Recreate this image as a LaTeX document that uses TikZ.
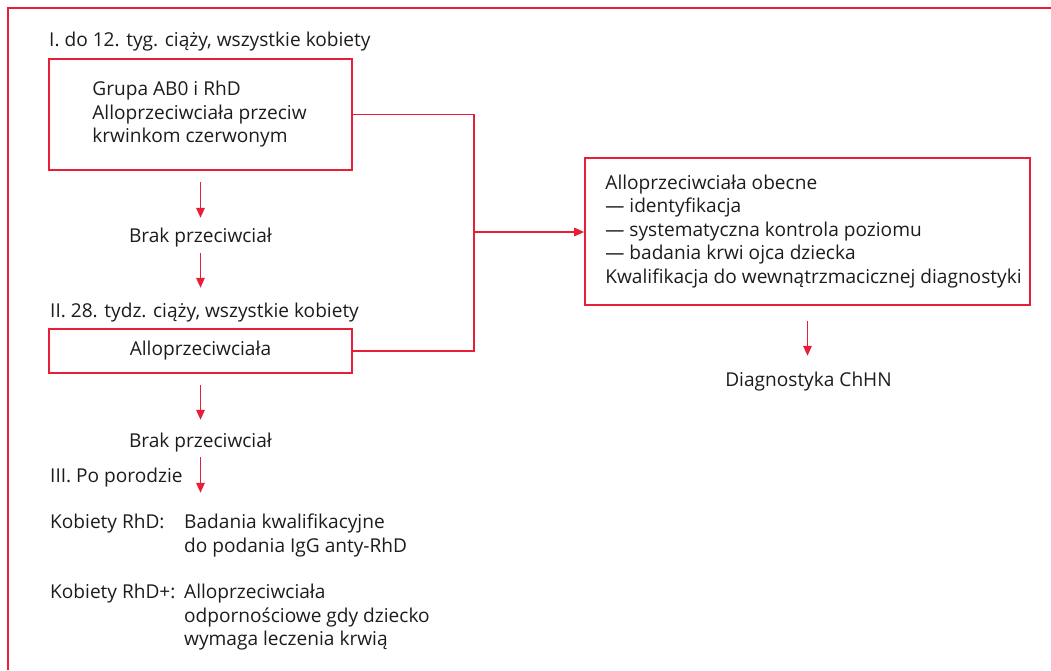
\documentclass[tikz,border=0pt]{standalone}
\usepackage{fontspec}
\setmainfont{Open Sans}
\usetikzlibrary{arrows.meta,positioning}
\definecolor{chartred}{RGB}{232,30,56}
\definecolor{chartink}{RGB}{30,27,28}
\tikzset{
        frameline/.style={draw=chartred, line width=1.6pt},
        box/.style={draw=chartred, line width=1.6pt, inner sep=0pt},
        link/.style={draw=chartred, line width=1.6pt},
        flow/.style={draw=chartred, line width=1.6pt, -{Triangle[length=10pt,width=8.5pt]}},
        lbl/.style={inner sep=0pt, text=chartink, anchor=base west, text height=13pt, text depth=4pt},
        mid/.style={inner sep=0pt, text=chartink, anchor=base, text height=13pt, text depth=4pt},
        block/.style={inner sep=0pt, text=chartink, align=left},
          }
\begin{document}
\begin{tikzpicture}[x=1pt, y=-1pt, font=\fontsize{19.1}{23.5}\selectfont]
        \useasboundingbox (0,0) rectangle (1051,670);
        \draw[frameline] (1051,8) -- (8,8) -- (8,670);

        \node[lbl] (stage1) at (49,46) {I. do 12. tyg. ciąży, wszystkie kobiety};
        \node[box, minimum width=303pt, minimum height=111pt] (group) at (200.5,114.5) {};
        \node[block, anchor=west, right=44pt of group.west] (grouptxt) {Grupa AB0 i RhD\\Alloprzeciwciała przeciw\\krwinkom czerwonym};
        \node[mid] (none1) at (200.5,242) {Brak przeciwciał};
        \node[lbl] (stage2) at (50,317) {II. 28. tydz. ciąży, wszystkie kobiety};
        \node[box, minimum width=303pt, minimum height=44pt, text=chartink] (anti) at (200.5,351) {Alloprzeciwciała};
        \node[mid] (none2) at (200.5,447) {Brak przeciwciał};
        \node[lbl] (stage3) at (50,482) {III. Po porodzie};
        \node[lbl] (rhdneg) at (50,528) {Kobiety RhD:};
        \node[block, anchor=north west] (negtxt) at (184,514) {Badania kwalifikacyjne\\do podania IgG anty-RhD};
        \node[lbl] (rhdpos) at (50,598) {Kobiety RhD+:};
        \node[block, anchor=north west] (postxt) at (184,584) {Alloprzeciwciała\\odpornościowe gdy dziecko\\wymaga leczenia krwią};

        \node[box, minimum width=445pt, minimum height=147pt] (findings) at (807.5,231.5) {};
        \node[block, anchor=west, right=21pt of findings.west] (findtxt) {Alloprzeciwciała obecne\\— identyfikacja\\— systematyczna kontrola poziomu\\— badania krwi ojca dziecka\\Kwalifikacja do wewnątrzmacicznej diagnostyki};
        \node[mid] (diag) at (808.5,386) {Diagnostyka ChHN};

        \coordinate (split) at (474,232);
        \draw[link] (group.east) -| (split) |- (anti.east);
        \draw[flow] (split) -- (split -| findings.west);

        \draw[flow, shorten <=11pt, shorten >=11pt] (group.south) -- (none1.north);
        \draw[flow, shorten <=7pt, shorten >=16pt] (none1.south) -- (none1 |- stage2.north);
        \draw[flow, shorten <=11pt, shorten >=14pt] (anti.south) -- (none2.north);
        \draw[flow, shorten <=6pt, shorten >=22pt] (none2.south) -- (none2 |- rhdneg.north);
        \draw[flow, shorten <=15pt, shorten >=17pt] (findings.south) -- (findings.south |- diag.north);
\end{tikzpicture}
\end{document}
